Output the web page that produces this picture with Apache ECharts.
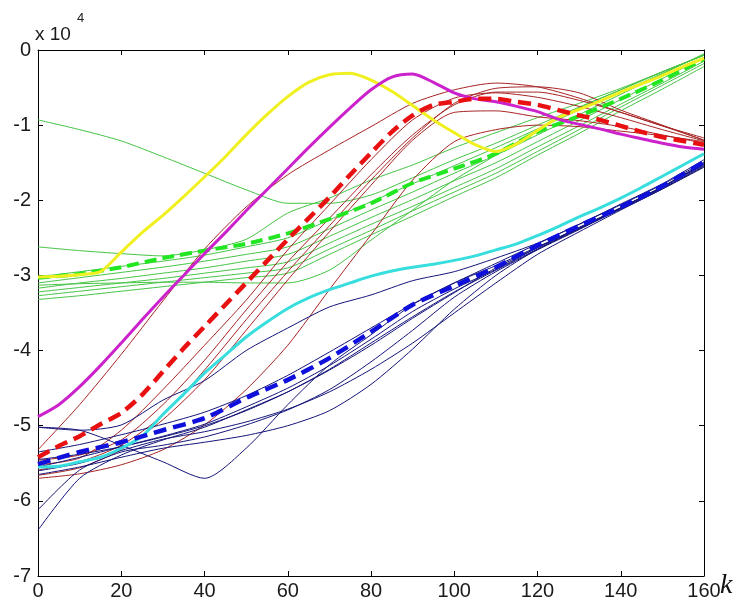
<!DOCTYPE html>
<html>
<head>
<meta charset="utf-8">
<script src="https://cdn.jsdelivr.net/npm/echarts@6/dist/echarts.min.js"></script>
<style>
  html, body { margin: 0; padding: 0; background: #fff; }
  #chart { width: 752px; height: 601px; }
</style>
</head>
<body>
<div id="chart"></div>
<script>
// k samples (fine grid for the thick lines, coarse for the thin ones)
const K5 = [0, 5, 10, 15, 20, 25, 30, 35, 40, 45, 50, 55, 60, 65, 70, 75, 80,
  85, 90, 95, 100, 105, 110, 115, 120, 125, 130, 135, 140, 145, 150, 155, 160];
const K10 = [0, 10, 20, 30, 40, 50, 60, 70, 80, 90, 100, 110, 120, 130, 140, 150, 160];

const xTicks = [0, 20, 40, 60, 80, 100, 120, 140, 160];
const yTicks = [-7, -6, -5, -4, -3, -2, -1, 0]; // x 10^4

// thick lines (K5)
const yellow = [-3.02, -3.01, -2.99, -2.95, -2.69, -2.43, -2.20, -1.95, -1.69, -1.42, -1.13,
  -0.86, -0.62, -0.43, -0.33, -0.31, -0.40, -0.55, -0.74, -0.93, -1.10, -1.26, -1.35,
  -1.25, -1.07, -0.90, -0.79, -0.68, -0.56, -0.45, -0.34, -0.22, -0.11];
const magenta = [-4.88, -4.72, -4.48, -4.20, -3.90, -3.59, -3.29, -3.00, -2.71, -2.43, -2.14,
  -1.86, -1.58, -1.30, -1.03, -0.77, -0.53, -0.36, -0.32, -0.43, -0.57, -0.65, -0.69,
  -0.75, -0.82, -0.92, -0.99, -1.05, -1.12, -1.18, -1.24, -1.29, -1.32];
const redMean = [-5.42, -5.27, -5.14, -4.98, -4.83, -4.59, -4.28, -3.97, -3.68, -3.39, -3.10,
  -2.81, -2.52, -2.24, -1.96, -1.66, -1.37, -1.09, -0.87, -0.73, -0.69, -0.65, -0.65,
  -0.69, -0.73, -0.80, -0.87, -0.93, -1.01, -1.09, -1.16, -1.21, -1.26];
const cyan = [-5.55, -5.54, -5.48, -5.42, -5.30, -5.14, -4.85, -4.58, -4.30, -4.06, -3.82,
  -3.62, -3.44, -3.30, -3.19, -3.10, -3.01, -2.94, -2.89, -2.85, -2.80, -2.74, -2.66,
  -2.58, -2.47, -2.35, -2.22, -2.10, -1.97, -1.83, -1.68, -1.53, -1.38];

// thick dashed (K10)
const greenMean = [-3.03, -2.98, -2.89, -2.77, -2.67, -2.58, -2.44, -2.25, -2.04, -1.77,
  -1.58, -1.38, -1.09, -0.88, -0.65, -0.40, -0.12];
const blueMean = [-5.51, -5.35, -5.22, -5.06, -4.90, -4.63, -4.39, -4.10, -3.75, -3.39,
  -3.14, -2.89, -2.60, -2.34, -2.09, -1.81, -1.49];

// thin red lines (K10)
const red1 = [-5.32, -4.72, -4.05, -3.34, -2.65, -2.09, -1.66, -1.33, -1.02, -0.71, -0.53, -0.44, -0.49, -0.64, -0.83, -1.01, -1.17];
const red2 = [-5.59, -5.48, -5.26, -4.86, -4.26, -3.59, -2.95, -2.34, -1.73, -1.17, -0.71, -0.51, -0.49, -0.57, -0.80, -1.00, -1.20];
const red3 = [-5.46, -5.39, -5.19, -4.72, -4.13, -3.46, -2.82, -2.24, -1.66, -1.13, -0.73, -0.56, -0.56, -0.67, -0.83, -1.01, -1.20];
const red4 = [-5.66, -5.56, -5.32, -4.92, -4.39, -3.73, -3.06, -2.42, -1.80, -1.20, -0.83, -0.81, -0.89, -0.94, -1.02, -1.13, -1.24];
const red5 = [-5.70, -5.64, -5.52, -5.32, -4.99, -4.52, -3.93, -3.19, -2.46, -1.73, -1.22, -1.06, -1.00, -1.02, -1.08, -1.14, -1.22];
const red6 = [-5.52, -5.43, -5.06, -4.52, -3.93, -3.33, -2.66, -2.06, -1.46, -0.93, -0.64, -0.57, -0.63, -0.75, -0.90, -1.06, -1.21];

// thin green lines (K10)
const green1 = [-0.93, -1.06, -1.21, -1.42, -1.64, -1.86, -2.04, -2.04, -1.93, -1.70, -1.46, -1.24, -1.00, -0.76, -0.53, -0.29, -0.07];
const green2 = [-2.62, -2.67, -2.71, -2.74, -2.66, -2.52, -2.17, -1.97, -1.73, -1.53, -1.30, -1.10, -0.90, -0.71, -0.51, -0.29, -0.07];
const green3 = [-3.13, -3.11, -3.10, -3.09, -3.09, -3.10, -3.10, -2.93, -2.53, -2.13, -1.73, -1.40, -1.06, -0.77, -0.53, -0.29, -0.07];
const green4 = [-3.10, -3.03, -2.96, -2.89, -2.81, -2.72, -2.62, -2.38, -2.13, -1.89, -1.64, -1.40, -1.13, -0.86, -0.59, -0.32, -0.05];
const green5 = [-3.17, -3.10, -3.04, -2.97, -2.90, -2.81, -2.72, -2.48, -2.23, -1.99, -1.74, -1.50, -1.22, -0.94, -0.66, -0.38, -0.10];
const green6 = [-3.22, -3.16, -3.10, -3.04, -2.97, -2.90, -2.82, -2.57, -2.32, -2.08, -1.83, -1.58, -1.29, -1.01, -0.72, -0.44, -0.15];
const green7 = [-3.27, -3.21, -3.15, -3.09, -3.03, -2.97, -2.90, -2.65, -2.40, -2.14, -1.89, -1.64, -1.35, -1.06, -0.76, -0.47, -0.18];
const green8 = [-3.32, -3.27, -3.21, -3.15, -3.09, -3.03, -2.97, -2.72, -2.46, -2.21, -1.95, -1.70, -1.40, -1.11, -0.81, -0.52, -0.22];
const green9 = [-3.02, -2.95, -2.88, -2.81, -2.73, -2.62, -2.50, -2.26, -2.02, -1.78, -1.54, -1.30, -1.05, -0.80, -0.56, -0.31, -0.06];

// thin blue lines (K10)
const blue1 = [-5.02, -5.06, -4.99, -4.66, -4.40, -4.00, -3.70, -3.42, -3.26, -3.07, -2.95, -2.77, -2.57, -2.32, -2.05, -1.78, -1.46];
const blue2 = [-5.02, -5.06, -5.26, -5.48, -5.70, -5.30, -4.72, -4.19, -3.79, -3.39, -3.10, -2.87, -2.62, -2.37, -2.10, -1.82, -1.50];
const blue3 = [-6.39, -5.70, -5.39, -5.19, -5.02, -4.79, -4.55, -4.26, -3.93, -3.57, -3.23, -2.90, -2.63, -2.37, -2.10, -1.82, -1.53];
const blue4 = [-6.12, -5.59, -5.35, -5.26, -5.15, -4.99, -4.79, -4.52, -4.15, -3.73, -3.29, -2.95, -2.66, -2.39, -2.11, -1.84, -1.54];
const blue5 = [-5.45, -5.38, -5.28, -5.15, -5.00, -4.80, -4.55, -4.25, -3.90, -3.55, -3.22, -2.93, -2.65, -2.38, -2.11, -1.83, -1.52];
const blue6 = [-5.60, -5.50, -5.33, -5.18, -5.08, -4.95, -4.78, -4.55, -4.25, -3.90, -3.50, -3.10, -2.72, -2.42, -2.13, -1.85, -1.55];
const blue7 = [-5.65, -5.55, -5.42, -5.30, -5.22, -5.13, -5.00, -4.80, -4.45, -3.98, -3.45, -3.00, -2.65, -2.38, -2.12, -1.85, -1.56];
const blue8 = [-5.35, -5.25, -5.12, -4.98, -4.82, -4.60, -4.33, -4.02, -3.70, -3.38, -3.10, -2.84, -2.58, -2.32, -2.06, -1.79, -1.49];
const blue9 = [-5.55, -5.42, -5.28, -5.14, -4.98, -4.75, -4.50, -4.20, -3.85, -3.48, -3.18, -2.92, -2.63, -2.36, -2.10, -1.82, -1.51];

const FONT = '"Liberation Sans", Arial, sans-serif';

function line(ks, ys, color, width, dash, z) {
  return {
    type: 'line',
    data: ks.map((k, i) => [k, ys[i]]),
    showSymbol: false,
    smooth: 0.25,
    z: z,
    lineStyle: { color: color, width: width, type: dash || 'solid' },
    emphasis: { disabled: true },
  };
}

const thinGreen = '#45c445';
const thinRed = '#a82424';
const thinBlue = '#14147a';

const series = [];
[green1, green2, green3, green4, green5, green6, green7, green8, green9].forEach(ys => {
  series.push(line(K10, ys, thinGreen, 1, null, 2));
});
[red1, red2, red3, red4, red5, red6].forEach(ys => {
  series.push(line(K10, ys, thinRed, 1, null, 3));
});
[blue1, blue2, blue3, blue4, blue5, blue6, blue7, blue8, blue9].forEach(ys => {
  series.push(line(K10, ys, thinBlue, 1, null, 3));
});
series.push(line(K10, greenMean, '#22e622', 4, [12, 6], 4));
series.push(line(K5, yellow, '#f0f020', 3, null, 5));
series.push(line(K5, magenta, '#cc22cc', 3, null, 5));
series.push(line(K5, redMean, '#e81010', 4.5, [13, 7], 6));
series.push(line(K5, cyan, '#38dede', 3, null, 5));
series.push(line(K10, blueMean, '#1010dd', 4.5, [13, 7], 6));

function xAxis(pos, showLabel) {
  return {
    type: 'value', position: pos, min: xTicks[0], max: xTicks[xTicks.length - 1], interval: 20,
    axisLine: { onZero: false, lineStyle: { color: '#000', width: 1 } },
    axisTick: { inside: true, length: 5, lineStyle: { color: '#000' } },
    axisLabel: { show: showLabel, color: '#1a1a1a', fontSize: 20, fontFamily: FONT, margin: 5 },
    splitLine: { show: false },
  };
}
function yAxis(pos, showLabel) {
  return {
    type: 'value', position: pos, min: yTicks[0], max: yTicks[yTicks.length - 1], interval: 1,
    axisLine: { onZero: false, lineStyle: { color: '#000', width: 1 } },
    axisTick: { inside: true, length: 5, lineStyle: { color: '#000' } },
    axisLabel: { show: showLabel, color: '#1a1a1a', fontSize: 20, fontFamily: FONT, margin: 7 },
    splitLine: { show: false },
  };
}

const chart = echarts.init(document.getElementById('chart'));
chart.setOption({
  animation: false,
  backgroundColor: '#ffffff',
  grid: { left: 38, right: 48, top: 50, bottom: 25 },
  xAxis: [xAxis('bottom', true), xAxis('top', false)],
  yAxis: [yAxis('left', true), yAxis('right', false)],
  series: series,
  graphic: [
    { type: 'text', left: 35, top: 25, style: { text: 'x 10', font: '19px ' + FONT, fill: '#1a1a1a' } },
    { type: 'text', left: 77, top: 12, style: { text: '4', font: '13px ' + FONT, fill: '#1a1a1a' } },
    { type: 'text', left: 720, top: 572, style: { text: 'k', font: 'italic 28px "Liberation Serif", "Times New Roman", serif', fill: '#111' } },
  ],
});
</script>
</body>
</html>
